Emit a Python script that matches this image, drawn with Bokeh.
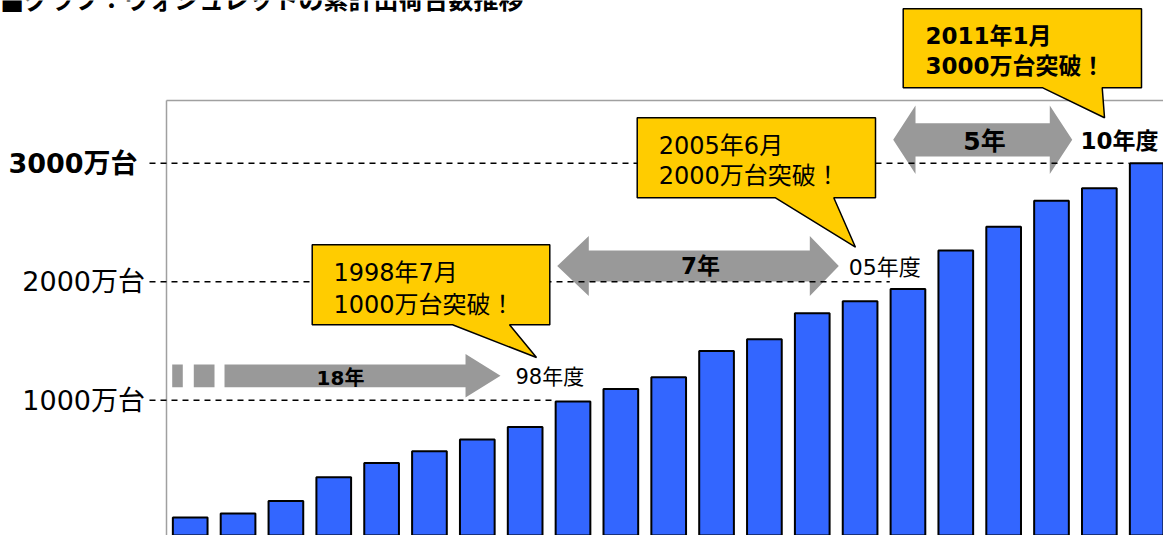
from bokeh.plotting import figure
from bokeh.models import ColumnDataSource, Range1d
from bokeh.core.properties import value
from bokeh.embed import file_html
from bokeh.resources import INLINE

# ---------------- data ----------------
title_text = "■グラフ：ウォシュレットの累計出荷台数推移"
fiscal_years = [1990, 1991, 1992, 1993, 1994, 1995, 1996, 1997, 1998, 1999,
                2000, 2001, 2002, 2003, 2004, 2005, 2006, 2007, 2008, 2009, 2010]
# cumulative shipments (万台)
cumulative_units = [10, 45, 150, 350, 470, 570, 670, 775, 990, 1095,
                    1195, 1415, 1515, 1735, 1835, 1940, 2265, 2465, 2685, 2790, 3000]
ytick_values = [1000, 2000, 3000]
ytick_labels = ["1000万台", "2000万台", "3000万台"]
milestone_years = [1998, 2005, 2010]
milestone_labels = ["98年度", "05年度", "10年度"]
callout_line1 = ["1998年7月", "2005年6月", "2011年1月"]
callout_line2 = ["1000万台突破！", "2000万台突破！", "3000万台突破！"]
span_labels = ["18年", "7年", "5年"]

# ---------------- styles ----------------
FONT = "DejaVu Sans, Noto Sans CJK JP"
BAR_COLOR = "#3366FF"
CALLOUT_COLOR = "#FFCC00"
ARROW_COLOR = "#999999"
FRAME_COLOR = "#A0A0A0"

# ---------------- ranges / layout (data units) ----------------
X0, X1 = -3.9645, 20.3407
Y0, Y1 = -140.9, 4373.8
AXIS_X = -0.4953
TOP_BORDER = 3530
BAR_W = 0.725

idx = list(range(len(fiscal_years)))
m_idx = [fiscal_years.index(y) for y in milestone_years]

p = figure(width=1163, height=535, x_range=Range1d(X0, X1), y_range=Range1d(Y0, Y1),
           x_axis_location=None, y_axis_location=None,
           toolbar_location=None, output_backend="svg",
           min_border_left=0, min_border_right=0, min_border_top=0, min_border_bottom=0,
           background_fill_color="white", border_fill_color="white",
           outline_line_color=None)
p.grid.visible = False

# plot-area border: left axis line and top line
p.segment(x0=[AXIS_X, AXIS_X], y0=[Y0, TOP_BORDER], x1=[AXIS_X, X1], y1=[TOP_BORDER, TOP_BORDER],
          line_color=FRAME_COLOR, line_width=1.5)

# bars
src = ColumnDataSource(dict(x=idx, top=cumulative_units))
p.vbar(x="x", top="top", bottom=Y0 - 200, width=BAR_W, source=src,
       fill_color=BAR_COLOR, line_color="black", line_width=2)

# ---------------- arrows ----------------
def right_arrow(xs, xh, xt, yc, bh, hh):
    return ([xs, xh, xh, xt, xh, xh, xs],
            [yc + bh, yc + bh, yc + hh, yc, yc - hh, yc - bh, yc - bh])

def double_arrow(xtl, xbl, xbr, xtr, yc, bh, hh):
    return ([xtl, xbl, xbl, xbr, xbr, xtr, xbr, xbr, xbl, xbl],
            [yc, yc + hh, yc + bh, yc + bh, yc + hh, yc, yc - hh, yc - bh, yc - bh, yc - hh])

def rect(xl, xr, yb, yt):
    return ([xl, xr, xr, xl], [yb, yb, yt, yt])

a1c, a1b, a1h = 1206.8, 95.8, 183.1
a2c, a2b, a2h = 2133.3, 130.8, 253.2
a3c, a3b, a3h = 3198.3, 140.1, 288.6
shapes = [
    rect(-0.376, -0.155, a1c - a1b, a1c + a1b),
    rect(0.075, 0.508, a1c - a1b, a1c + a1b),
    right_arrow(0.717, 5.754, 6.485, a1c, a1b, a1h),
    double_arrow(7.670, 8.330, 12.949, 13.555, a2c, a2b, a2h),
    double_arrow(14.692, 15.158, 17.964, 18.433, a3c, a3b, a3h),
]
p.patches(xs=[s[0] for s in shapes], ys=[s[1] for s in shapes],
          fill_color=ARROW_COLOR, line_color=None)

# dashed milestone lines (from left of the axis to the milestone bar)
p.segment(x0=[-0.8506] * 3, y0=ytick_values, x1=[i - 0.38 for i in m_idx], y1=ytick_values,
          line_color="black", line_width=1.5, line_dash="6 5")

# ---------------- callouts ----------------
def callout(xl, xr, yb, yt, tl, tr, tx, ty):
    return ([xl, xr, xr, tr, tx, tl, xl], [yt, yt, yb, yb, ty, yb, yb])

calls = [
    callout(2.550, 7.515, 1637.1, 2312.2, 5.482, 6.673, 7.237, 1361.2),
    callout(9.342, 14.322, 2708.9, 3384.0, 12.232, 13.450, 13.903, 2292.0),
    callout(14.901, 19.881, 3637.1, 4303.8, 17.818, 19.060, 19.108, 3384.0),
]
p.patches(xs=[c[0] for c in calls], ys=[c[1] for c in calls],
          fill_color=CALLOUT_COLOR, line_color="black", line_width=1.5)

def txt(x, y, t, size, bold=False, align="left"):
    p.text(x=[x], y=[y], text=[t], text_font=value(FONT), text_font_size=value(size),
           text_font_style="bold" if bold else "normal", text_color="black",
           text_align=align, text_baseline="middle")

# y tick labels
p.text(x=[-0.945] * 2, y=ytick_values[:2], text=ytick_labels[:2], text_font=value(FONT),
       text_font_size=value("27px"), text_color="black",
       text_align="right", text_baseline="middle")
txt(-1.10, ytick_values[2], ytick_labels[2], "27px", bold=True, align="right")

# callout texts
txt(2.995, 2072.6, callout_line1[0], "24px")
txt(2.995, 1806.8, callout_line2[0], "24px")
txt(9.793, 3147.7, callout_line1[1], "24px")
txt(9.793, 2894.5, callout_line2[1], "24px")
txt(15.367, 4071.7, callout_line1[2], "23px", bold=True)
txt(15.367, 3818.6, callout_line2[2], "23px", bold=True)

# span labels on arrows
txt(3.141, 1190.7, span_labels[0], "20px", bold=True, align="center")
txt(10.664, 2130.8, span_labels[1], "23px", bold=True, align="center")
txt(16.600, 3185.6, span_labels[2], "25px", bold=True, align="center")

# fiscal-year labels
txt(6.798, 1195.0, milestone_labels[0], "21px")
txt(13.764, 2119.0, milestone_labels[1], "22px")
txt(18.607, 3185.6, milestone_labels[2], "23px", bold=True)

# title (cut at the top edge as in the source)
txt(X0, 4369.6, title_text, "25px", bold=True)

open("out.html", "w").write(file_html(p, INLINE))
